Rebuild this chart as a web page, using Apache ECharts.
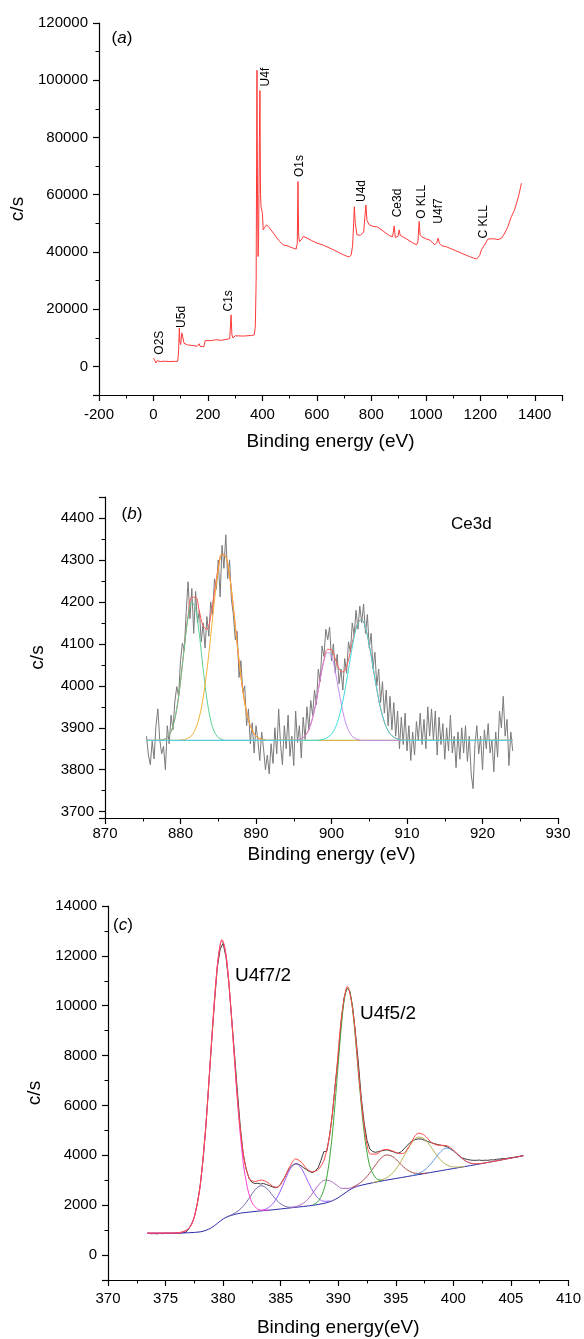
<!DOCTYPE html>
<html>
<head>
<meta charset="utf-8">
<title>XPS spectra</title>
<script src="https://cdn.jsdelivr.net/npm/echarts@6/dist/echarts.min.js"></script>
<style>
html, body { margin: 0; padding: 0; background: #fff; }
#chart { width: 584px; height: 1339px; }
</style>
</head>
<body>
<div id="chart"></div>
<script>
// ---------- (a) survey ----------
const surveyEnergy = [0, 4, 9, 14, 18, 25, 40, 60, 80, 89, 92, 95, 97, 100, 104, 107, 112, 125, 145, 160, 168, 171, 185, 190, 195, 210, 230, 250, 270, 280, 285, 288, 292, 300, 330, 360, 370, 374, 377, 380, 382, 384, 386, 389, 391, 393, 395, 398, 400, 403, 408, 415, 425, 440, 460, 476, 495, 513, 524, 528, 530.5, 533, 536, 545, 550, 560, 580, 600, 625, 648, 670, 697, 712, 720, 726, 731, 735, 737.5, 741, 747, 760, 767, 772, 776, 780, 784, 792, 807, 820, 831, 850, 868, 878, 884, 888, 893, 898, 902, 906, 911, 930, 953, 966, 971, 975.5, 979, 985, 1000, 1015, 1033, 1040, 1045, 1050, 1058, 1075, 1088, 1110, 1137, 1160, 1186, 1192, 1198, 1204, 1210, 1216, 1222, 1228, 1250, 1265, 1278, 1290, 1300, 1314, 1325, 1333, 1342, 1351];
const surveyCounts = [2900, 2200, 1200, 2000, 2300, 1700, 1800, 1700, 1750, 1800, 5000, 13400, 8500, 7600, 11700, 10500, 8100, 7500, 7300, 7000, 7900, 7000, 6900, 9000, 9400, 9000, 9300, 9100, 9500, 9700, 18000, 11000, 9900, 10700, 10600, 10800, 11000, 14000, 30000, 103500, 60000, 38400, 45000, 80000, 96400, 60000, 55800, 56000, 53500, 47700, 48500, 49500, 48500, 46600, 44000, 42500, 42000, 41300, 41000, 43000, 64600, 46000, 43600, 44500, 45400, 45000, 44000, 43100, 42300, 41300, 40300, 39000, 38400, 38300, 39000, 42000, 50000, 55800, 50000, 46000, 45800, 45700, 47000, 52000, 56400, 51000, 49500, 48900, 48800, 48200, 46800, 45600, 45300, 49100, 45000, 44800, 45500, 47700, 45800, 45300, 44500, 43100, 42500, 43500, 50600, 46000, 45300, 44600, 44100, 42500, 43200, 44800, 43000, 42200, 41800, 41300, 40400, 39300, 38400, 37500, 37500, 38800, 40700, 41000, 42500, 43000, 44500, 44600, 44300, 44800, 46600, 48500, 52300, 54500, 57000, 60000, 64000];
const surveyTags = ['O2S', 'U5d', 'C1s', 'U4f', 'O1s', 'U4d', 'Ce3d', 'O KLL', 'U4f7', 'C KLL'];
const surveyTagEnergy = [24, 105, 277, 413, 538, 765, 897, 985, 1048, 1213];
const surveyTagCounts = [8300, 17300, 22900, 101100, 70000, 61300, 57100, 57500, 54300, 50500];

// ---------- (b) Ce3d ----------
const ceStart = 875.5, ceStep = 0.25;
const ceCounts = [
  3880, 3835,
  3812, 3868, 3826, 3905,  3945, 3872, 3838, 3856,  3800, 3905, 3862, 3930,  3895, 3962, 3998, 3975,
  4060, 4102, 4085, 4175,  4248, 4160, 4232, 4125,  4225, 4150, 4180, 4105,  4150, 4090, 4165, 4118,
  4200, 4170, 4255, 4230,  4300, 4212, 4335, 4280,  4360, 4255, 4300, 4205,  4170, 4110, 4130, 4020,
  4060, 3985, 4000, 3905,  3945, 3862, 3912, 3840,  3905, 3870, 3822, 3890,  3850, 3800, 3835, 3790,
  3862, 3815, 3900, 3838,  3945, 3860, 3812, 3905,  3850, 3930, 3832, 3880,  3810, 3940, 3865, 3905,
  3828, 3925, 3872, 3950,  3895, 3965, 3930, 3990,  3955, 4040, 4010, 4095,  4070, 4135, 4110, 4140,
  4060, 4100, 4030, 4075,  4005, 4040, 3990, 4065,  4030, 4105, 4080, 4150,  4120, 4180, 4135, 4190,
  4150, 4195, 4125, 4170,  4090, 4125, 4040, 4080,  4000, 4040, 3960, 4010,  3935, 3990, 3905, 3975,
  3895, 3960, 3880, 3940,  3850, 3925, 3860, 3935,  3845, 3905, 3822, 3890,  3835, 3915, 3870, 3935,
  3860, 3920, 3850, 3950,  3880, 3945, 3870, 3940,  3835, 3925, 3860, 3910,  3825, 3900, 3845, 3930,
  3840, 3880, 3805, 3890,  3825, 3900, 3840, 3905,  3820, 3880, 3790, 3755,  3860, 3905, 3838, 3880,
  3800, 3895, 3850, 3910,  3840, 3870, 3795, 3890,  3830, 3940, 3900, 3975,  3880, 3920, 3810, 3890,
  3845
];
const ceEnvelope = [[875.5,3870],[877,3870],[877.5,3871],[878,3874],[878.5,3883],[879,3904],[879.5,3945],[880,4011],[880.5,4092],[881,4167],[881.5,4211],[882,4211],[882.5,4177],[883,4143],[883.5,4135],[884,4166],[884.5,4223],[885,4281],[885.5,4314],[886,4308],[886.5,4262],[887,4187],[887.5,4101],[888,4023],[888.5,3961],[889,3919],[889.5,3894],[890,3880],[890.5,3874],[891,3872],[891.5,3870],[895,3870],[895.5,3871],[896,3874],[896.5,3881],[897,3896],[897.5,3924],[898,3966],[898.5,4016],[899,4062],[899.5,4087],[900,4086],[900.5,4064],[901,4041],[901.5,4033],[902,4047],[902.5,4082],[903,4122],[903.5,4151],[904,4157],[904.5,4138],[905,4097],[905.5,4045],[906,3992],[906.5,3947],[907,3914],[907.5,3893],[908,3881],[908.5,3875],[909,3872],[909.5,3870],[924,3870]];
const ceGreen = [[875.5,3870],[877,3870],[877.5,3871],[878,3874],[878.5,3883],[879,3904],[879.5,3945],[880,4010],[880.5,4090],[881,4162],[881.5,4199],[882,4183],[882.5,4121],[883,4041],[883.5,3968],[884,3918],[884.5,3890],[885,3877],[885.5,3872],[886,3870],[924,3870]];
const ceOrange = [[875.5,3870],[879.5,3870],[880,3871],[880.5,3872],[881,3875],[881.5,3882],[882,3898],[882.5,3926],[883,3972],[883.5,4037],[884,4118],[884.5,4203],[885,4274],[885.5,4312],[886,4308],[886.5,4262],[887,4187],[887.5,4101],[888,4023],[888.5,3961],[889,3919],[889.5,3894],[890,3880],[890.5,3874],[891,3872],[891.5,3870],[924,3870]];
const cePurple = [[875.5,3870],[895,3870],[895.5,3871],[896,3874],[896.5,3881],[897,3896],[897.5,3924],[898,3966],[898.5,4015],[899,4059],[899.5,4080],[900,4071],[900.5,4034],[901,3985],[901.5,3939],[902,3905],[902.5,3886],[903,3876],[903.5,3872],[904,3870],[924,3870]];
const ceCyan = [[875.5,3870],[898,3870],[898.5,3871],[899,3873],[899.5,3877],[900,3885],[900.5,3900],[901,3926],[901.5,3964],[902,4012],[902.5,4066],[903,4116],[903.5,4149],[904,4157],[904.5,4138],[905,4097],[905.5,4045],[906,3992],[906.5,3947],[907,3914],[907.5,3893],[908,3881],[908.5,3875],[909,3872],[909.5,3870],[924,3870]];

// ---------- (c) U4f ----------
const uStart = 373.5, uStep = 0.25;
const uCounts = [
  868, 855,
  862, 850, 866, 858,  872, 860, 868, 864,  878, 884, 895, 915,  1040, 1230, 1520, 2050,
  2760, 3800, 5150, 6850,  8540, 10150, 11560, 12280,  12500, 11950, 10900, 9450,  8000, 6500, 5100, 4050,
  3450, 3080, 2920, 2870,  2880, 2850, 2870, 2830,  2790, 2740, 2700, 2720,  2850, 3040, 3260, 3480,
  3600, 3660, 3650, 3590,  3500, 3420, 3350, 3310,  3370, 3500, 3800, 4150,  4150, 4800, 5700, 6900,
  7950, 9350, 10300, 10700,  10600, 9950, 8900, 7700,  6300, 5300, 4600, 4250,  4150, 4120, 4150, 4180,
  4200, 4220, 4180, 4150,  4100, 4090, 4150, 4280,  4400, 4520, 4600, 4640,  4660, 4650, 4600, 4560,
  4520, 4480, 4450, 4420,  4400, 4370, 4330, 4250,  4180, 4080, 3980, 3900,  3860, 3830, 3810, 3800,
  3800, 3810, 3795, 3805,  3800, 3820, 3815, 3840,  3850, 3870, 3860, 3890,  3900, 3920, 3930, 3960,
  3990
];
const uEnvelope = [[373.4,880],[376,892],[377,1062],[377.5,1539],[378,2772],[378.5,5193],[379,8570],[379.5,11608],[379.9,12650],[380.3,11865],[380.8,9101],[381.3,5973],[381.8,3900],[382.3,3050],[382.8,2950],[383.3,3010],[383.8,2930],[384.3,2760],[384.7,2720],[385.3,3080],[385.8,3560],[386.3,3860],[386.8,3720],[387.3,3440],[387.8,3340],[388.3,3450],[388.8,3850],[389.3,4950],[389.8,7104],[390.3,9627],[390.8,10780],[391.3,9691],[391.8,7150],[392.3,5000],[392.8,4050],[393.3,4050],[393.8,4200],[394.2,4240],[394.7,4180],[395.2,4080],[395.6,4070],[396.2,4400],[396.7,4800],[397.0,4890],[397.5,4800],[398.0,4560],[398.5,4420],[399.0,4400],[399.4,4390],[399.9,4250],[400.4,4030],[400.9,3830],[401.4,3700],[402,3660],[403,3716],[404,3800],[405,3890],[406.1,3985]];
const uBackground = [[373.4,880],[375,880],[376,885],[377,895],[378,930],[378.5,990],[379,1100],[379.5,1270],[380,1450],[380.5,1560],[381,1630],[381.5,1680],[382,1710],[383,1760],[384,1800],[385,1850],[386,1900],[387,1950],[388,2010],[388.5,2050],[389,2100],[389.5,2180],[390,2300],[390.5,2460],[391,2620],[391.5,2730],[392,2800],[393,2900],[394,2990],[395,3070],[396,3150],[397,3230],[398,3310],[399,3390],[400,3470],[401,3550],[402,3630],[403,3715],[404,3800],[405,3890],[406.1,3985]];
const u4f72 = [[373.4,880],[375,881],[376,886],[376.4,914],[376.9,1018],[377.4,1397],[377.9,2440],[378.15,3364],[378.4,4607],[378.65,6150],[378.9,7873],[379.15,9624],[379.4,11114],[379.65,12183],[379.9,12610],[380.15,12333],[380.4,11414],[380.65,10029],[380.9,8413],[381.15,6775],[381.4,5307],[381.65,4109],[381.9,3220],[382.4,2222],[382.9,1879],[383.4,1800],[384,1805]];
const u4f52 = [[387.8,2014],[388.3,2179],[388.8,2695],[389.05,3237],[389.3,4055],[389.55,5153],[389.8,6519],[390.05,7976],[390.3,9322],[390.55,10298],[390.8,10700],[391.05,10458],[391.3,9617],[391.55,8396],[391.8,7039],[392.05,5773],[392.3,4735],[392.55,3982],[392.8,3495],[393.3,3074],[393.8,2999]];
const uSat1 = [[380.3,1527],[380.8,1631],[381.3,1770],[381.8,1990],[382.3,2306],[382.8,2630],[383.3,2780],[383.8,2670],[384.3,2396],[384.8,2130],[385.3,1975],[385.8,1921],[386.3,1922]];
const uSat2 = [[383.3,1789],[383.8,1866],[384.3,2050],[384.55,2203],[384.8,2405],[385.05,2649],[385.3,2920],[385.55,3190],[385.8,3426],[386.05,3588],[386.3,3655],[386.55,3613],[386.8,3476],[387.05,3266],[387.3,3020],[387.55,2780],[387.8,2563],[388.05,2389],[388.3,2265],[388.8,2156],[389.3,2169]];
const uSat3 = [[385.85,1901],[386.35,1949],[386.85,2045],[387.35,2234],[387.85,2529],[388.35,2841],[388.85,3005],[389.35,2961],[389.85,2809],[390.35,2674],[390.85,2675],[391.35,2729],[391.85,2786]];
const uSat4 = [[391.2,2705],[391.7,2836],[392.2,3013],[392.7,3269],[393.2,3588],[393.7,3876],[394.2,4015],[394.7,3956],[395.2,3753],[395.7,3524],[396.2,3358],[396.7,3281],[397.2,3270],[397.7,3291]];
const uSat5 = [[393,2906],[393.5,2971],[394,3056],[394.5,3201],[395,3444],[395.5,3797],[396,4210],[396.5,4566],[397,4730],[397.5,4646],[398,4370],[398.5,4037],[399,3764],[399.5,3601],[400,3536],[400.5,3531],[401,3556]];
const uSat6 = [[396.4,3190],[396.9,3260],[397.4,3379],[397.9,3584],[398.4,3867],[398.9,4145],[399.4,4287],[399.9,4225],[400.4,4027],[400.9,3824],[401.4,3699],[401.9,3660],[402.4,3674]];

const FONT = '"Liberation Sans", Arial, Helvetica, sans-serif';

const chart = echarts.init(document.getElementById('chart'), null, { renderer: 'canvas' });

function xAxisOf(grid, min, max, interval, step, name, gap, margin) {
    return {
        type: 'value', gridIndex: grid, min: min, max: max, interval: interval,
        name: name, nameLocation: 'middle', nameGap: gap,
        nameTextStyle: { fontFamily: FONT, fontSize: 19, color: '#000' },
        axisLine: { show: true, onZero: false, lineStyle: { color: '#000', width: 1.2 } },
        axisTick: { show: true, length: 6, lineStyle: { color: '#000', width: 1.2 } },
        minorTick: { show: true, splitNumber: 2, length: 3.5, lineStyle: { color: '#000', width: 1 } },
        axisLabel: {
            fontFamily: FONT, fontSize: 15, color: '#000', margin: margin,
            showMinLabel: true, showMaxLabel: true, hideOverlap: false,
            formatter: v => (Math.abs(v % step) < 1e-6 ? String(v) : '')
        },
        splitLine: { show: false }
    };
}
function yAxisOf(grid, min, max, splitNumber, step, gap) {
    return {
        type: 'value', gridIndex: grid, min: min, max: max, splitNumber: splitNumber,
        name: 'c/s', nameLocation: 'middle', nameGap: gap,
        nameTextStyle: { fontFamily: FONT, fontSize: 19, color: '#000' },
        axisLine: { show: true, onZero: false, lineStyle: { color: '#000', width: 1.2 } },
        axisTick: { show: true, length: 6, lineStyle: { color: '#000', width: 1.2 } },
        minorTick: { show: true, splitNumber: 2, length: 3.5, lineStyle: { color: '#000', width: 1 } },
        axisLabel: {
            fontFamily: FONT, fontSize: 15, color: '#000', margin: 11,
            showMinLabel: true, showMaxLabel: true, hideOverlap: false,
            formatter: v => (Math.abs(v % step) < 1e-6 ? String(v) : '')
        },
        splitLine: { show: false }
    };
}
function line(grid, data, color, width, smooth, z) {
    return {
        type: 'line', xAxisIndex: grid, yAxisIndex: grid, data: data,
        symbol: 'none', showSymbol: false, smooth: smooth || false,
        lineStyle: { color: color, width: width }, z: z || 2, silent: true
    };
}

const surveyData = surveyEnergy.map((e, i) => [e, surveyCounts[i]]);
const ceData = ceCounts.map((v, i) => [ceStart + i * ceStep, v]);
const uData = uCounts.map((v, i) => [uStart + i * uStep, v]);

const option = {
    animation: false,
    backgroundColor: '#fff',
    grid: [
        { left: 99, right: 22, top: 23, height: 372 },
        { left: 105, right: 26, top: 497, height: 321 },
        { left: 108, right: 11, top: 906, height: 374 }
    ],
    xAxis: [
        xAxisOf(0, -200, 1500, 200, 200, 'Binding energy (eV)', 37, 12),
        xAxisOf(1, 870, 930, 10, 10, 'Binding energy (eV)', 27, 8),
        xAxisOf(2, 370, 410, 5, 5, 'Binding energy(eV)', 38, 11)
    ],
    yAxis: [
        yAxisOf(0, -10000, 120000, 6, 20000, 64),
        yAxisOf(1, 3685, 4450, 8, 100, 58),
        yAxisOf(2, -1000, 14000, 7, 2000, 64)
    ],
    series: [
        line(0, surveyData, '#ff3a3a', 1),

        line(1, ceData, '#7a7a7a', 1),
        line(1, ceEnvelope, '#ff5a5a', 1, 0.4, 3),
        line(1, ceGreen, '#5ccf95', 1, 0.4, 3),
        line(1, ceOrange, '#f2b134', 1, 0.4, 3),
        line(1, cePurple, '#c48cf0', 1, 0.4, 3),
        line(1, ceCyan, '#3fdcdc', 1, 0.4, 3),

        line(2, uData, '#3a3a3a', 1),
        line(2, uBackground, '#2a2aa8', 1, 0.3, 3),
        line(2, uSat1, '#6a6aa8', 1, 0.4, 3),
        line(2, uSat2, '#9a5cff', 1, 0.4, 3),
        line(2, uSat3, '#b068c4', 1, 0.4, 3),
        line(2, uSat4, '#a84a4a', 1, 0.4, 3),
        line(2, uSat5, '#b4b050', 1, 0.4, 3),
        line(2, uSat6, '#5a9ae0', 1, 0.4, 3),
        line(2, u4f52, '#3aa63a', 1, 0.4, 3),
        line(2, u4f72, '#ff40d0', 1, 0.4, 3),
        line(2, uEnvelope, '#ff4a4a', 1, 0.3, 4)
    ]
};
chart.setOption(option);

function tag(x, y, letter) {
    return {
        type: 'text', x: x, y: y, z: 10,
        style: {
            text: '({i|' + letter + '})', fontFamily: FONT, fontSize: 17, fill: '#000',
            align: 'center', verticalAlign: 'middle',
            rich: { i: { fontStyle: 'italic', fontFamily: FONT, fontSize: 17, fill: '#000' } }
        }
    };
}
function plain(x, y, text, size, align) {
    return {
        type: 'text', x: x, y: y, z: 10,
        style: { text: text, fontFamily: FONT, fontSize: size, fill: '#000', align: align || 'left', verticalAlign: 'middle' }
    };
}

const graphics = [
    tag(122, 38, 'a'),
    tag(132, 514, 'b'),
    plain(451, 524, 'Ce3d', 17),
    tag(123, 925, 'c'),
    plain(235, 976, 'U4f7/2', 19),
    plain(360, 1014, 'U4f5/2', 19)
];
surveyTags.forEach((t, i) => {
    const p = chart.convertToPixel({ gridIndex: 0 }, [surveyTagEnergy[i], surveyTagCounts[i]]);
    graphics.push({
        type: 'text', x: p[0], y: p[1], rotation: Math.PI / 2, z: 10,
        style: { text: t, fontFamily: FONT, fontSize: 12, fill: '#000', align: 'center', verticalAlign: 'middle' }
    });
});
chart.setOption({ graphic: graphics });
</script>
</body>
</html>
